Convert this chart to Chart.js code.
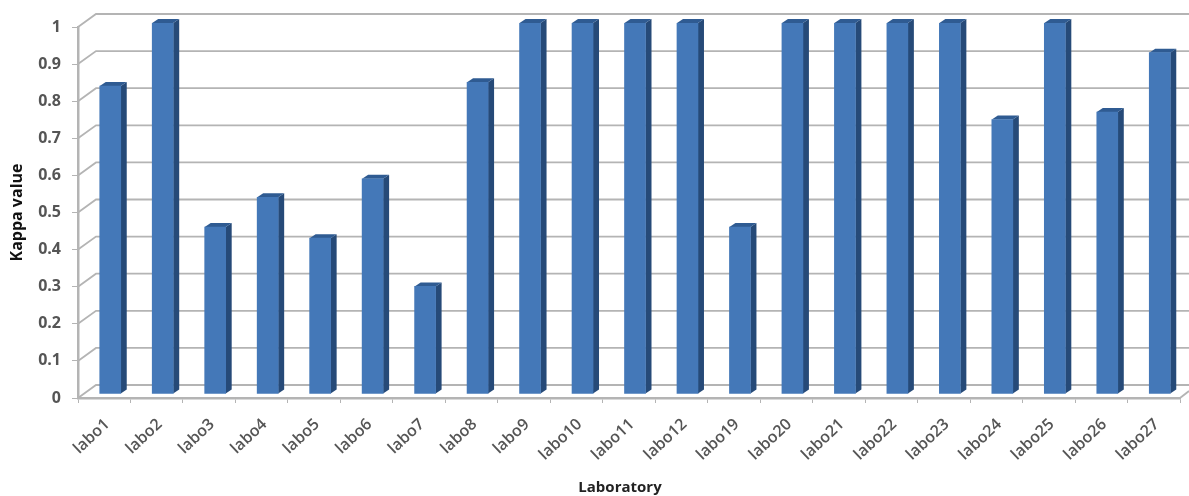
<!DOCTYPE html>
<html>
<head>
<meta charset="utf-8">
<style>
  html, body { margin: 0; padding: 0; background: #fff; }
  #wrap { width: 1189px; height: 496px; }
  canvas { display: block; filter: blur(0.6px); }
</style>
</head>
<body>
<div id="wrap"><canvas id="kappa-chart"></canvas></div>
<script src="https://cdn.jsdelivr.net/npm/chart.js@4"></script>
<script>
const laboratories = ["labo1", "labo2", "labo3", "labo4", "labo5", "labo6", "labo7", "labo8", "labo9", "labo10", "labo11", "labo12", "labo19", "labo20", "labo21", "labo22", "labo23", "labo24", "labo25", "labo26", "labo27"];
const kappaValues = [0.83, 1, 0.45, 0.53, 0.42, 0.58, 0.29, 0.84, 1, 1, 1, 1, 0.45, 1, 1, 1, 1, 0.74, 1, 0.76, 0.92];
const yTickLabels = ["0", "0.1", "0.2", "0.3", "0.4", "0.5", "0.6", "0.7", "0.8", "0.9", "1"];

const AXIS_GREY = "#b4b4b4";
const FONT = "'Open Sans', 'Noto Sans', sans-serif";

// back wall: one diagonal + one horizontal for every y tick
const wallPlugin = {
  id: "wall",
  beforeDatasetsDraw(chart) {
    const { ctx, scales: { y }, chartArea } = chart;
    ctx.save();
    ctx.strokeStyle = AXIS_GREY;
    ctx.lineWidth = 1.8;
    y.ticks.forEach(t => {
      const py = y.getPixelForValue(t.value);
      ctx.beginPath();
      ctx.moveTo(chartArea.left, py);
      ctx.lineTo(chartArea.left + 18, py - 13);
      ctx.lineTo(chart.width, py - 13);
      ctx.stroke();
    });
    // floor edge on the right
    ctx.beginPath();
    ctx.moveTo(chartArea.right, chartArea.bottom);
    ctx.lineTo(chart.width, chartArea.bottom - 7);
    ctx.stroke();
    ctx.restore();
  }
};

// pushes the bars back in depth and draws their top and side faces
const DEPTH_X = 6, DEPTH_Y = -4, SIDE_X = 6, SIDE_Y = -4;
const barDepthPlugin = {
  id: "barDepth",
  beforeDatasetDraw(chart, args) {
    const { ctx } = chart;
    ctx.save();
    ctx.translate(DEPTH_X, DEPTH_Y);
    args.meta.data.forEach(bar => {
      const l = bar.x - bar.width / 2, r = bar.x + bar.width / 2;
      ctx.fillStyle = "#264a78";
      ctx.beginPath();
      ctx.moveTo(r, bar.y);
      ctx.lineTo(r + SIDE_X, bar.y + SIDE_Y);
      ctx.lineTo(r + SIDE_X, bar.base + SIDE_Y);
      ctx.lineTo(r, bar.base);
      ctx.closePath();
      ctx.fill();
      ctx.fillStyle = "#2f5b92";
      ctx.beginPath();
      ctx.moveTo(l, bar.y);
      ctx.lineTo(l + SIDE_X, bar.y + SIDE_Y);
      ctx.lineTo(r + SIDE_X, bar.y + SIDE_Y);
      ctx.lineTo(r, bar.y);
      ctx.closePath();
      ctx.fill();
    });
  },
  afterDatasetDraw(chart) {
    chart.ctx.restore();
  }
};

const xTitlePlugin = {
  id: "xTitle",
  afterDraw(chart) {
    const { ctx } = chart;
    ctx.save();
    ctx.font = "bold 15px " + FONT;
    ctx.fillStyle = "#222";
    ctx.textAlign = "center";
    ctx.textBaseline = "middle";
    ctx.fillText("Laboratory", 620, 488);
    ctx.restore();
  }
};

new Chart(document.getElementById("kappa-chart"), {
  type: "bar",
  data: {
    labels: laboratories,
    datasets: [{
      label: "Kappa value",
      data: kappaValues,
      backgroundColor: "#4478b8",
      barThickness: 21
    }]
  },
  options: {
    responsive: true,
    maintainAspectRatio: false,
    animation: false,
    layout: { padding: { top: 27, right: 9, left: 0, bottom: 0 } },
    plugins: { legend: { display: false }, tooltip: { enabled: false } },
    scales: {
      x: {
        afterFit(scale) { scale.height = 98; },
        grid: { drawOnChartArea: false, color: AXIS_GREY, tickLength: 5, offset: true },
        border: { color: AXIS_GREY, width: 2.5 },
        ticks: {
          autoSkip: false,
          maxRotation: 43,
          minRotation: 43,
          padding: 12,
          labelOffset: 3,
          color: "#555",
          font: { family: FONT, size: 16, weight: "600" }
        }
      },
      y: {
        min: 0,
        max: 1,
        afterFit(scale) { scale.width = 78; },
        afterBuildTicks(scale) {
          scale.ticks = yTickLabels.map(Number).map(value => ({ value }));
        },
        grid: { drawOnChartArea: false, color: AXIS_GREY, tickLength: 6 },
        border: { color: AXIS_GREY, width: 2.5 },
        ticks: {
          padding: 11,
          color: "#555",
          font: { family: FONT, size: 16, weight: "bold" },
          callback: (value, index) => yTickLabels[index]
        },
        title: {
          display: true,
          text: "Kappa value",
          color: "#111",
          font: { family: FONT, size: 16, weight: "bold" },
          padding: { top: 8, bottom: 0 }
        }
      }
    }
  },
  plugins: [wallPlugin, barDepthPlugin, xTitlePlugin]
});
</script>
</body>
</html>
